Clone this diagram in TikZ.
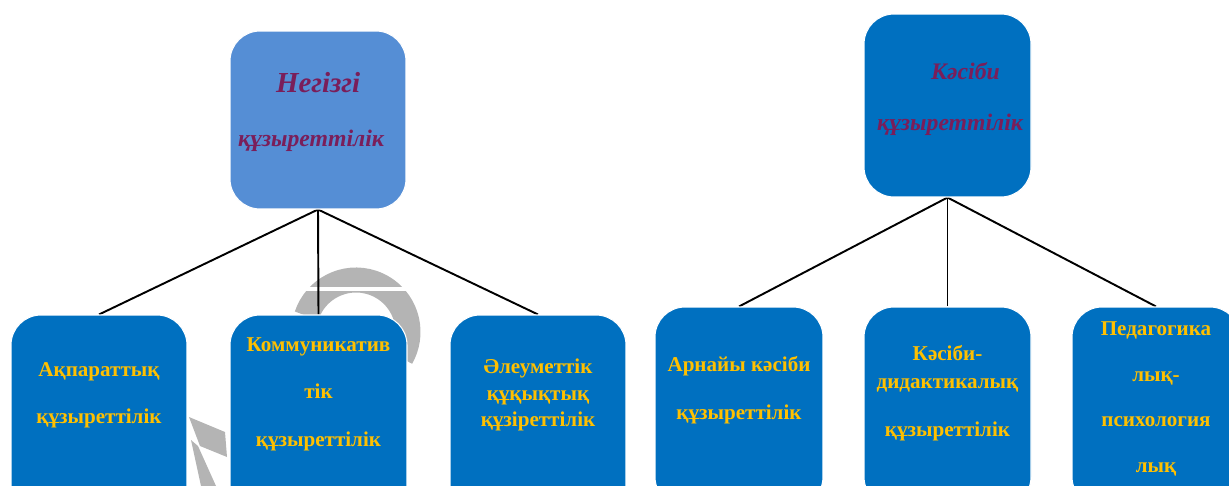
\documentclass[tikz,border=0pt]{standalone}
\usepackage{fontspec}
\setmainfont{Liberation Serif}
\usepackage{tikz}
\usetikzlibrary{backgrounds}
\definecolor{lightbox}{HTML}{558ED5}
\definecolor{darkbox}{HTML}{0070C0}
\definecolor{plum}{HTML}{7A1E5A}
\definecolor{gold}{HTML}{FFC000}
\definecolor{wmgray}{HTML}{B4B4B4}
\tikzstyle{topbox}=[rectangle,rounded corners=0.6cm,draw=white,line width=0.6pt,inner sep=0pt]
\tikzstyle{lowbox}=[rectangle,rounded corners=0.6cm,draw=white,line width=0.6pt,fill=darkbox,inner sep=0pt,minimum height=4cm]
\tikzstyle{toptext}=[text=plum,font=\fontsize{13.5}{16}\selectfont\bfseries\itshape,align=center]
\tikzstyle{lowtext}=[text=gold,font=\fontsize{12}{15}\selectfont\bfseries,align=center]
\tikzstyle{branch}=[-,line width=1.1pt,draw=black]
\tikzstyle{watermark}=[wmgray,line width=0.5cm]
\pgfdeclarelayer{edgelayer}
\pgfdeclarelayer{nodelayer}
\pgfsetlayers{edgelayer,nodelayer,main}
\begin{document}
\begin{tikzpicture}[x=0.02cm,y=-0.02cm]
	\useasboundingbox (0,0) rectangle (1229,486);
	\begin{pgfonlayer}{nodelayer}
		% top level
		\node [style=topbox,fill=lightbox,minimum width=3.52cm,minimum height=3.56cm] (base) at (318,120) {};
		\node [style=topbox,fill=darkbox,minimum width=3.34cm,minimum height=3.66cm] (prof) at (947.5,105.5) {};
		\node [style=toptext] (basetxt) at (311,112) {\hspace*{0.6em}{\fontsize{16.5}{16}\selectfont Негізгі}\\[15pt]құзыреттілік};
		\node [style=toptext] (proftxt) at (950,99) {\hspace*{1.3em}Кәсіби\\[13pt]құзыреттілік};

		% lower level, left
		\node [style=lowbox,minimum width=3.52cm] (info) at (99,415) {};
		\node [style=lowbox,minimum width=3.54cm] (comm) at (318.5,415) {};
		\node [style=lowbox,minimum width=3.52cm] (soc) at (538,415) {};
		% lower level, right
		\node [style=lowbox,minimum width=3.36cm] (spec) at (739,407) {};
		\node [style=lowbox,minimum width=3.34cm] (did) at (947.5,407) {};
		\node [style=lowbox,minimum width=3.36cm] (ped) at (1156,407) {};

		\node [style=lowtext] (infotxt) at (99,395) {Ақпараттық\\[12pt]құзыреттілік};
		\node [style=lowtext] (commtxt) at (318.5,394) {Коммуникатив\\[12pt]тік\\[12pt]құзыреттілік};
		\node [style=lowtext] (soctxt) at (538,395) {Әлеуметтік\\құқықтық\\құзіреттілік};
		\node [style=lowtext] (spectxt) at (739,390) {Арнайы кәсіби\\[12pt]құзыреттілік};
		\node [style=lowtext] (didtxt) at (947.5,393) {Кәсіби-\\[1pt]дидактикалық\\[12pt]құзыреттілік};
		\node [style=lowtext] (pedtxt) at (1156,399) {Педагогика\\[11pt]лық-\\[11pt]психология\\[11pt]лық};
	\end{pgfonlayer}
	\begin{pgfonlayer}{edgelayer}
		% faint logo behind the boxes
		\draw [style=watermark] (356,332) ++(198:52) arc[start angle=198,end angle=390,radius=52];
		\draw [white,line width=2pt] (300,289) -- (420,289);
		\fill [wmgray] (189,417) -- (225,432) -- (227,457) -- (200,446) -- cycle;
		\fill [wmgray] (191,440) -- (198,446) -- (216,486) -- (201,486) -- cycle;

		\draw [style=branch] (base.south) to (info.north);
		\draw [style=branch] (base.south) to (comm.north);
		\draw [style=branch] (base.south) to (soc.north);
		\draw [style=branch] (prof.south) to (spec.north);
		\draw [style=branch] (prof.south) to (did.north);
		\draw [style=branch] (prof.south) to (ped.north);
	\end{pgfonlayer}
\end{tikzpicture}
\end{document}
